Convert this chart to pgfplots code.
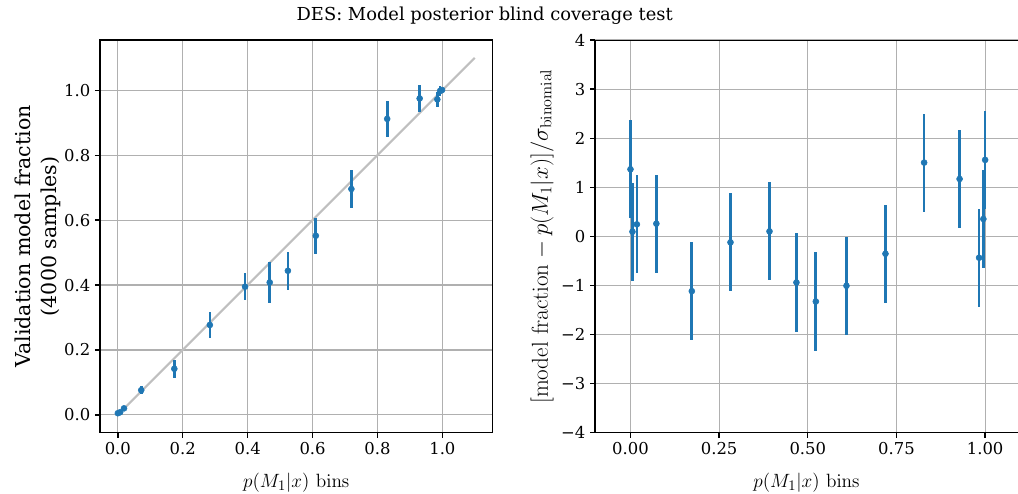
\documentclass[border=0pt]{standalone}
\usepackage{pgfplots}
\pgfplotsset{compat=1.18}
\usepackage{pgfplotstable}
\usepackage[no-math]{fontspec}
\setmainfont{DejaVu Serif}
\definecolor{C0}{HTML}{1F77B4}
\definecolor{gridc}{HTML}{B0B0B0}
\definecolor{diagc}{HTML}{BFBFBF}

\pgfplotstableread{
x y e
0.000 0.005 0.004
0.007 0.008 0.005
0.019 0.020 0.007
0.072 0.076 0.012
0.174 0.142 0.027
0.2835 0.277 0.040
0.392 0.395 0.041
0.468 0.408 0.064
0.524 0.444 0.058
0.610 0.552 0.056
0.7196 0.696 0.060
0.830 0.912 0.056
0.930 0.975 0.041
0.9845 0.972 0.022
0.993 0.998 0.014
0.999 1.001 0.006
}\lefttab

\pgfplotstableread{
x y e
0.000 1.367 1
0.0056 0.095 1
0.018 0.245 1
0.073 0.259 1
0.173 -1.116 1
0.282 -0.122 1
0.392 0.102 1
0.468 -0.939 1
0.5226 -1.327 1
0.609 -1.007 1
0.719 -0.354 1
0.828 1.503 1
0.928 1.170 1
0.983 -0.435 1
0.995 0.354 1
1.000 1.558 1
}\righttab

\pgfplotsset{
  mystyle/.style={
    scale only axis,
    anchor=south west,
    grid=major,
    major grid style={gridc, line width=0.85pt},
    axis line style={line width=1pt, black},
    every tick/.style={black, line width=1pt},
    major tick length=3.75pt,
    tick align=outside,
    tick pos=left,
    ticklabel style={font=\fontsize{12.3}{14}\selectfont},
    label style={font=\fontsize{15.4}{19.5}\selectfont},
    xlabel style={at={(axis description cs:0.5,-0.14)}, anchor=base},
  },
  eb/.style={only marks, mark=*, mark size=2.25pt, color=C0,
    mark options={fill=C0, draw=C0},
    error bars/.cd, y dir=both, y explicit,
    error bar style={line width=2pt, C0}, error mark=none},
}

\begin{document}
\begin{tikzpicture}
\begin{axis}[mystyle,
  at={(75pt,45.225pt)}, width=294.5pt, height=294.5pt,
  xmin=-0.055, xmax=1.155, ymin=-0.055, ymax=1.155,
  xtick={0,0.2,0.4,0.6,0.8,1.0}, xticklabels={0.0,0.2,0.4,0.6,0.8,1.0},
  ytick={0,0.2,0.4,0.6,0.8,1.0}, yticklabels={0.0,0.2,0.4,0.6,0.8,1.0},
  xlabel={$p(M_1|x)\ \mathrm{bins}$},
  ylabel={Validation model fraction\\(4000 samples)},
  ylabel style={align=center, font=\fontsize{15.4}{19.5}\selectfont, at={(axis description cs:-0.158,0.5)}, anchor=center},
]
\addplot[diagc, line width=1.6pt] coordinates {(0,0) (1.1,1.1)};
\addplot[eb] table[x=x, y=y, y error=e] {\lefttab};
\end{axis}

\begin{axis}[mystyle,
  at={(446.25pt,45.225pt)}, width=317.25pt, height=294.5pt,
  axis lines*=left,
  x axis line style={-}, y axis line style={-},
  xmin=-0.1, xmax=1.0927, ymin=-4, ymax=4,
  xtick={0,0.25,0.5,0.75,1.0}, xticklabels={0.00,0.25,0.50,0.75,1.00},
  ytick={-4,-3,-2,-1,0,1,2,3,4}, yticklabels={−4,−3,−2,−1,0,1,2,3,4},
  xlabel={$p(M_1|x)\ \mathrm{bins}$},
  ylabel={$[\mathrm{model\ fraction} - p(M_1|x)]/\sigma_{\mathrm{binomial}}$},
  xlabel style={font=\fontsize{15.4}{19.5}\selectfont, at={(axis description cs:0.5,-0.14)}, anchor=base},
  ylabel style={font=\fontsize{17.3}{19.5}\selectfont, at={(axis description cs:-0.125,0.5)}, anchor=center},
]
\addplot[eb] table[x=x, y=y, y error=e] {\righttab};
\draw[black, line width=1pt] (rel axis cs:0,1) -- (rel axis cs:1,1);
\end{axis}

\node[anchor=base, font=\fontsize{13.4}{16}\selectfont] at (363.5pt,354.2pt) {DES: Model posterior blind coverage test};

\pgfresetboundingbox
\path[use as bounding box] (0,0) rectangle (763.5pt,369.75pt);
\end{tikzpicture}
\end{document}
